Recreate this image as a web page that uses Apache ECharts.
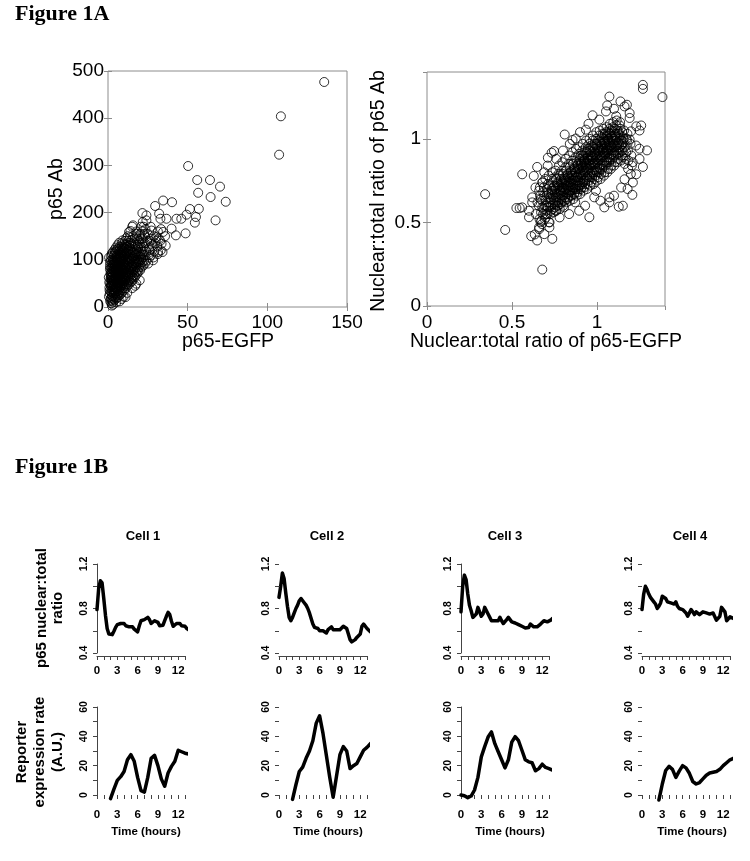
<!DOCTYPE html>
<html><head><meta charset="utf-8">
<script src="https://cdn.jsdelivr.net/npm/echarts@6/dist/echarts.min.js"></script>
<style>html,body{margin:0;padding:0;background:#fff}#c{width:750px;height:861px}</style>
</head><body><div id="c"></div>
<script>
// ---------------- DATA ----------------
// Figure 1B time grids (hours)
const tTop = [0,0.25,0.5,0.75,1,1.25,1.5,1.75,2,2.25,2.5,2.75,3,3.25,3.5,3.75,4,4.25,4.5,4.75,5,5.25,5.5,5.75,6,6.25,6.5,6.75,7,7.25,7.5,7.75,8,8.25,8.5,8.75,9,9.25,9.5,9.75,10,10.25,10.5,10.75,11,11.25,11.5,11.75,12,12.25,12.5,12.75,13,13.25,13.5];
const tBot = [0,0.5,1,1.5,2,2.5,3,3.5,4,4.5,5,5.5,6,6.5,7,7.5,8,8.5,9,9.5,10,10.5,11,11.5,12,12.5,13,13.5];

// p65 nuclear:total ratio
const cell1Ratio = [0.79,0.98,1.05,1.03,0.89,0.74,0.62,0.57,0.556,0.565,0.595,0.63,0.655,0.67,0.665,0.675,0.665,0.645,0.65,0.635,0.645,0.635,0.615,0.60,0.59,0.645,0.69,0.705,0.70,0.71,0.72,0.70,0.665,0.67,0.69,0.70,0.675,0.645,0.63,0.65,0.69,0.73,0.765,0.745,0.685,0.64,0.635,0.665,0.68,0.665,0.645,0.65,0.64,0.62,0.61];
const cell2Ratio = [0.9,1.0,1.12,1.07,0.94,0.82,0.72,0.69,0.72,0.76,0.8,0.83,0.87,0.89,0.87,0.85,0.83,0.8,0.76,0.71,0.66,0.63,0.63,0.62,0.6,0.59,0.6,0.6,0.58,0.61,0.625,0.635,0.61,0.6,0.61,0.6,0.61,0.62,0.64,0.65,0.62,0.57,0.52,0.5,0.51,0.52,0.54,0.55,0.57,0.64,0.66,0.64,0.62,0.61,0.59];
const cell3Ratio = [0.77,1.0,1.1,1.06,0.93,0.83,0.78,0.72,0.72,0.75,0.81,0.77,0.73,0.75,0.81,0.80,0.75,0.72,0.69,0.68,0.69,0.7,0.69,0.72,0.69,0.665,0.665,0.7,0.72,0.7,0.68,0.665,0.67,0.66,0.655,0.645,0.64,0.63,0.625,0.61,0.63,0.66,0.665,0.635,0.62,0.635,0.645,0.66,0.67,0.69,0.685,0.68,0.685,0.695,0.71];
const cell4Ratio = [0.79,0.93,1.0,0.97,0.93,0.9,0.88,0.86,0.84,0.8,0.82,0.85,0.91,0.91,0.89,0.86,0.85,0.85,0.84,0.84,0.86,0.82,0.8,0.785,0.79,0.8,0.76,0.73,0.73,0.79,0.77,0.745,0.77,0.785,0.745,0.76,0.77,0.755,0.76,0.76,0.75,0.74,0.76,0.77,0.695,0.71,0.73,0.81,0.82,0.77,0.69,0.7,0.725,0.71,0.71];

// Reporter expression rate (A.U.)
const cell1Expr = [null,null,null,null,-2.5,4,10,12.5,16,24,27.5,23,12,3,2,12,25,27,20,11,6,15,19.5,23,30.5,29.5,28.5,28];
const cell2Expr = [null,null,null,null,-3,7,16,19,25,30,37,49,54,42,27,12,-1.5,13,27.5,33,30,18,20,21.5,26,30.5,32.5,35];
const cell3Expr = [0,-0.5,-1.8,-0.7,3.4,12,26,33,39.5,43,35,29.5,24,18.5,24,36,39.8,37,30.5,24,22.6,22,16.5,18,21,18.8,18,17];
const cell4Expr = [null,null,null,null,null,-3.4,7.5,16.7,19.5,17.5,12,16.3,20,18.5,14.8,9.2,7.5,8.5,11,13.5,15,15.5,16,17.5,20,22,24,25];

const cellTitles = ['Cell 1','Cell 2','Cell 3','Cell 4'];
const ratioSeries = [cell1Ratio, cell2Ratio, cell3Ratio, cell4Ratio];
const exprSeries = [cell1Expr, cell2Expr, cell3Expr, cell4Expr];

// Figure 1A left: [p65-EGFP, p65 Ab]
const egfpVsAb = [
[135.7,476.7],[108.5,404],[107.4,322.7],[50.3,298.7],[56,269],[64,269],[70.3,255],[56.6,242],[64.4,233],[73.9,223],[57,208],[51.4,207.6],[49.3,195.6],[55.2,190.7],[54.5,178.7],[67.5,183.6],[43,187],[46,187],[34.6,225.6],[40.2,222],[29.6,214],[21.6,199],[32.1,197.7],[32.9,187],[36.7,187],[39.9,166],[42.6,151.8],[48.7,156],[34.6,159],[30.4,148],[33.6,134],[31.4,116.5],[34.2,116.5],[27.3,162],[24.1,183.6],[24.1,194],[15.7,173],[13.2,159],[17.8,155],[27.3,134],[28.3,99],[25.2,92],[26.2,120],[19.9,56.5],[17.8,49.4],[11,21],
[0.6,22],[0.9,41],[0.5,63],[1.2,80],[1.4,12],[1.1,28],[0.8,52],[1.5,70],[1.3,95],[0.7,105],[1.0,35],[1.6,58],
[2.1,8],[1.9,19],[2.3,31],[2.0,43],[2.4,56],[1.8,67],[2.2,81],[2.6,94],[2.0,108],[2.5,24],[2.2,48],[1.9,74],
[3.1,11],[2.9,23],[3.3,36],[3.0,49],[3.4,61],[2.8,73],[3.2,86],[3.5,99],[3.0,116],[3.6,29],[2.7,64],[3.3,90],
[4.2,15],[3.9,27],[4.4,41],[4.0,53],[4.3,66],[3.8,78],[4.1,93],[4.5,104],[4.0,121],[4.6,34],[3.9,59],[4.4,85],
[5.1,18],[4.9,31],[5.3,44],[5.0,57],[5.4,69],[4.8,81],[5.2,96],[5.5,110],[5.0,126],[5.6,38],[4.9,63],[5.3,88],
[6.2,21],[5.9,34],[6.4,47],[6.0,59],[6.3,71],[5.8,85],[6.1,98],[6.5,113],[6.0,131],[6.6,52],[5.9,77],
[7.1,25],[6.9,38],[7.4,51],[7.0,63],[7.3,76],[6.8,89],[7.2,101],[7.5,116],[7.0,136],[7.6,44],[6.9,69],
[8.2,28],[7.9,42],[8.4,55],[8.0,68],[8.3,81],[7.8,93],[8.1,107],[8.5,121],[8.6,61],[7.9,86],
[9.1,32],[8.9,46],[9.3,58],[9.0,72],[9.4,85],[8.8,98],[9.2,111],[9.5,126],[9.0,141],[9.6,66],
[10.2,36],[9.9,50],[10.4,63],[10.0,76],[10.3,90],[9.8,103],[10.1,118],[10.5,131],[10.6,71],
[11.1,40],[10.9,55],[11.4,68],[11.0,81],[11.3,95],[10.8,108],[11.2,123],[11.5,146],
[12.2,45],[11.9,58],[12.4,73],[12.0,86],[12.3,100],[11.8,113],[12.1,128],[12.5,150],
[13.1,48],[12.9,62],[13.3,76],[13.0,90],[13.4,104],[12.8,118],[13.2,136],
[14.2,52],[13.9,66],[14.4,80],[14.0,95],[14.3,110],[13.8,125],[14.1,161],
[15.1,55],[14.9,70],[15.3,85],[15.0,100],[15.4,115],[14.8,141],[15.2,170],
[16.2,60],[15.9,75],[16.4,90],[16.0,105],[16.3,120],[15.8,150],
[17.1,65],[16.9,80],[17.4,95],[17.0,110],[17.3,131],
[18.2,70],[17.9,85],[18.4,100],[18.0,118],[18.3,145],[17.8,160],
[19.1,75],[18.9,92],[19.3,108],[19.0,125],
[20.2,78],[19.9,96],[20.4,112],[20.0,135],[20.3,155],
[21.1,85],[20.9,100],[21.3,120],
[22.2,88],[21.9,105],[22.4,128],[22.0,145],[22.3,170],[21.8,180],
[23.1,92],[22.9,110],[23.3,135],[23.0,150],
[24.2,98],[23.9,118],[26.1,105],[25.8,125],[26.3,140],[27.2,110],[26.9,145],[29.1,118],[28.8,150],
[31.2,112],[30.9,128],[31.3,160],[33.1,120],[32.8,140],[33.3,165],[36.2,130],[35.8,150],
[3.2,5],[5.2,10],[7.3,12],[9.8,22],[12.1,30],[15.2,40],[17.1,45],[2.4,3],[8.5,17],
[1.7,45],[2.8,52],[3.7,47],[4.7,72],[5.7,51],[6.7,82],[7.7,60],[8.7,78],[9.7,92],[2.3,63],[3.4,78],[4.5,98],[5.6,102],[6.6,64],[7.6,105],[8.6,96],[9.5,57],[1.3,88],[2.9,101],[4.1,112],[5.1,118],[6.3,123],[7.4,128],[8.8,135],
[24.5,140],[25.5,110],[27.8,130],[28.5,105],[29.5,135],[23.5,165],[25,155],[26.8,170],[30,140],[31.8,145],[19.5,140],[18.6,132],[21.5,160],[20.7,170],[16.8,145],[14.6,135],[13.7,148],[12.6,140],[11.6,133],
[1.5,16],[1.6,33],[1.4,50],[1.7,62],[1.5,84],[1.6,99],
[2.5,14],[2.6,37],[2.4,45],[2.7,58],[2.5,71],[2.6,86],[2.4,113],
[3.5,17],[3.6,32],[3.4,42],[3.7,55],[3.5,68],[3.6,83],[3.4,95],[3.7,108],
[4.5,21],[4.6,37],[4.4,48],[4.7,61],[4.5,76],[4.6,89],[4.4,116],
[5.5,24],[5.6,41],[5.4,53],[5.7,65],[5.5,79],[5.6,92],[5.4,106],[5.7,122],
[6.5,28],[6.6,42],[6.4,56],[6.7,67],[6.5,80],[6.6,94],[6.4,108],[6.7,118],
[7.5,32],[7.6,47],[7.4,58],[7.7,71],[7.5,84],[7.6,97],[7.4,112],[7.7,124],
[8.5,36],[8.6,50],[8.4,65],[8.7,74],[8.5,89],[8.6,102],[8.4,114],[8.7,128],
[9.5,40],[9.6,52],[9.4,68],[9.7,79],[9.5,95],[9.6,106],[9.4,119],[9.7,133],
[10.5,44],[10.6,57],[10.4,70],[10.7,84],[10.5,97],[10.6,111],[10.4,125],[10.7,140],
[11.5,48],[11.6,62],[11.4,75],[11.7,88],[11.5,102],[11.6,116],[11.4,128],
[12.5,52],[12.6,66],[12.4,80],[12.7,93],[12.5,107],[12.6,121],
[13.5,56],[13.6,70],[13.4,84],[13.7,98],[13.5,113],[13.6,130],
[14.5,60],[14.6,74],[14.4,88],[14.7,103],[14.5,120],
[15.5,64],[15.6,78],[15.4,93],[15.7,108],[15.5,128],
[16.5,68],[16.6,84],[16.4,98],[16.7,114],[16.5,135],
[17.5,74],[17.6,90],[17.4,104],[17.7,122],
[18.5,78],[18.6,95],[18.4,112],[18.7,128],
[19.5,84],[19.6,100],[19.4,116],[19.7,150],
[20.5,90],[20.6,106],[20.4,125],[20.7,145],
[21.5,95],[21.6,112],[21.4,135],
[22.5,98],[22.6,118],[22.7,155]
];

// Figure 1A right: [nuclear:total ratio p65-EGFP, nuclear:total ratio p65 Ab]
const ratioEgfpVsAb = [
[0.342,0.669],[0.46,0.455],[0.56,0.788],[0.526,0.586],[0.545,0.586],[0.678,0.218],[0.737,0.402],[0.648,0.392],[0.613,0.418],[0.634,0.428],[0.6,0.531],[0.955,0.531],[0.81,1.026],[1.073,1.253],[1.27,1.323],[1.27,1.299],[1.385,1.25],[1.138,1.224],[1.176,1.204],[0.974,1.141],[1.26,1.08],[1.25,0.941],[1.294,0.931],[1.27,0.832],[1.208,0.665],[1.152,0.6],[1.128,0.594],[1.231,0.788],[1.043,0.59],[1.073,0.62],[0.836,0.55],[0.895,0.57],[0.717,0.501],[0.668,0.501],[0.747,0.927],[0.711,0.887],[0.733,0.917],[0.648,0.832],[0.628,0.778],[0.638,0.709],[0.678,0.739],[0.875,1.002],[0.856,0.993],[0.935,1.055],[1.014,1.115],[1.053,1.164],[1.113,1.135],[1.192,1.154],[1.231,1.075],[1.25,1.05],[1.2,1.045],[1.192,0.996],[1.25,0.88],[1.211,0.739],[1.162,0.758],[1.142,0.709],[1.073,0.65],[0.984,0.65],[0.994,0.689],[0.806,0.59],[0.757,0.57],[0.698,0.55],[0.678,0.59],[0.619,0.65],[0.619,0.62],
[0.56,0.59],[0.872,0.62],[1.162,1.194],[1.192,1.125],[1.1,1.18],[1.06,1.2],[0.95,1.09],[0.9,1.04],[1.21,0.86],[1.23,0.96],[1.18,0.7],[1.1,0.66],[1.02,0.63],[0.93,0.6],[0.78,0.53],[0.66,0.46],[0.69,0.43],[0.72,0.47],[0.6,0.57],[0.64,0.55],[0.65,0.62],[0.66,0.69],[0.69,0.8],[0.71,0.84],[0.76,0.88],[0.8,0.93],[0.84,0.97],
[0.662,0.52],[0.657,0.6],[0.665,0.66],[0.659,0.47],[0.664,0.71],
[0.683,0.55],[0.678,0.63],[0.676,0.49],[0.684,0.68],[0.68,0.74],[0.686,0.58],
[0.703,0.57],[0.697,0.64],[0.705,0.7],[0.699,0.53],[0.702,0.6],[0.696,0.76],[0.704,0.66],
[0.722,0.59],[0.717,0.67],[0.725,0.55],[0.719,0.72],[0.723,0.62],[0.716,0.78],[0.721,0.5],[0.726,0.65],
[0.742,0.61],[0.737,0.69],[0.745,0.56],[0.739,0.74],[0.743,0.65],[0.736,0.8],[0.741,0.58],[0.746,0.71],
[0.762,0.63],[0.757,0.7],[0.765,0.6],[0.759,0.76],[0.763,0.67],[0.756,0.81],[0.761,0.57],[0.766,0.73],[0.758,0.65],
[0.782,0.64],[0.777,0.72],[0.785,0.61],[0.779,0.78],[0.783,0.69],[0.776,0.84],[0.781,0.58],[0.786,0.75],[0.778,0.67],[0.784,0.7],
[0.802,0.66],[0.797,0.74],[0.805,0.63],[0.799,0.79],[0.803,0.71],[0.796,0.86],[0.801,0.6],[0.806,0.76],[0.798,0.69],[0.804,0.73],
[0.822,0.67],[0.817,0.75],[0.825,0.64],[0.819,0.81],[0.823,0.72],[0.816,0.88],[0.821,0.62],[0.826,0.78],[0.818,0.7],[0.824,0.74],
[0.842,0.69],[0.837,0.77],[0.845,0.66],[0.839,0.83],[0.843,0.74],[0.836,0.9],[0.841,0.63],[0.846,0.8],[0.838,0.72],[0.844,0.76],[0.84,0.68],
[0.862,0.7],[0.857,0.79],[0.865,0.67],[0.859,0.85],[0.863,0.76],[0.856,0.92],[0.861,0.64],[0.866,0.82],[0.858,0.73],[0.864,0.78],[0.86,0.71],
[0.882,0.72],[0.877,0.8],[0.885,0.68],[0.879,0.86],[0.883,0.78],[0.876,0.94],[0.881,0.66],[0.886,0.84],[0.878,0.75],[0.884,0.82],[0.88,0.7],
[0.902,0.74],[0.897,0.82],[0.905,0.7],[0.899,0.88],[0.903,0.8],[0.896,0.95],[0.901,0.67],[0.906,0.85],[0.898,0.77],[0.904,0.84],[0.9,0.72],[0.907,0.9],
[0.922,0.75],[0.917,0.84],[0.925,0.71],[0.919,0.9],[0.923,0.82],[0.916,0.97],[0.921,0.69],[0.926,0.87],[0.918,0.79],[0.924,0.86],[0.92,0.74],[0.927,0.92],
[0.942,0.77],[0.937,0.86],[0.945,0.73],[0.939,0.92],[0.943,0.84],[0.936,0.99],[0.941,0.7],[0.946,0.89],[0.938,0.81],[0.944,0.88],[0.94,0.76],[0.947,0.94],
[0.962,0.79],[0.957,0.87],[0.965,0.74],[0.959,0.93],[0.963,0.85],[0.956,1.0],[0.961,0.72],[0.966,0.9],[0.958,0.83],[0.964,0.89],[0.96,0.77],[0.967,0.96],
[0.982,0.8],[0.977,0.89],[0.985,0.76],[0.979,0.95],[0.983,0.87],[0.976,1.02],[0.981,0.73],[0.986,0.92],[0.978,0.85],[0.984,0.91],[0.98,0.79],[0.987,0.97],
[1.002,0.82],[0.997,0.91],[1.005,0.77],[0.999,0.97],[1.003,0.89],[0.996,1.04],[1.001,0.75],[1.006,0.94],[0.998,0.86],[1.004,0.93],[1.0,0.8],[1.007,0.99],
[1.022,0.84],[1.017,0.93],[1.025,0.79],[1.019,0.98],[1.023,0.9],[1.016,1.05],[1.021,0.76],[1.026,0.95],[1.018,0.88],[1.024,0.96],[1.02,0.82],[1.027,1.01],
[1.042,0.86],[1.037,0.94],[1.045,0.8],[1.039,1.0],[1.043,0.92],[1.036,1.06],[1.041,0.78],[1.046,0.97],[1.038,0.9],[1.044,0.98],[1.04,0.84],[1.047,1.03],
[1.062,0.88],[1.057,0.96],[1.065,0.82],[1.059,1.02],[1.063,0.94],[1.056,1.07],[1.061,0.8],[1.066,0.99],[1.058,0.92],[1.064,1.0],[1.06,0.86],[1.067,1.04],
[1.082,0.9],[1.077,0.98],[1.085,0.84],[1.079,1.03],[1.083,0.96],[1.076,1.09],[1.081,0.82],[1.086,1.01],[1.078,0.94],[1.084,1.05],[1.08,0.88],
[1.102,0.92],[1.097,1.0],[1.105,0.86],[1.099,1.04],[1.103,0.97],[1.096,1.1],[1.101,0.84],[1.106,1.02],[1.098,0.95],[1.104,1.06],[1.1,0.9],
[1.122,0.94],[1.117,1.01],[1.125,0.88],[1.119,1.05],[1.123,0.98],[1.116,1.11],[1.121,0.86],[1.126,1.03],[1.118,0.96],[1.124,0.91],
[1.142,0.96],[1.137,1.02],[1.145,0.9],[1.139,1.06],[1.143,0.99],[1.136,1.1],[1.141,0.87],[1.146,0.93],
[1.162,0.95],[1.157,1.0],[1.165,0.9],[1.159,1.05],[1.163,0.85],[1.156,0.98],
[1.182,0.93],[1.177,0.99],[1.185,0.87],[1.179,1.03],[1.183,0.82],
[1.202,0.9],[1.197,0.97],[1.205,0.84],[1.199,0.79],
[0.671,0.56],[0.669,0.64],[0.673,0.51],
[0.691,0.6],[0.689,0.66],[0.693,0.52],[0.688,0.71],
[0.711,0.59],[0.709,0.62],[0.713,0.68],[0.708,0.55],[0.712,0.73],
[0.731,0.6],[0.729,0.64],[0.733,0.7],[0.728,0.57],[0.732,0.67],[0.734,0.76],
[0.751,0.59],[0.749,0.63],[0.753,0.67],[0.748,0.72],[0.752,0.61],[0.754,0.77],[0.75,0.69],
[0.771,0.6],[0.769,0.65],[0.773,0.69],[0.768,0.74],[0.772,0.62],[0.774,0.79],[0.77,0.71],
[0.791,0.62],[0.789,0.66],[0.793,0.71],[0.788,0.76],[0.792,0.64],[0.794,0.81],[0.79,0.73],[0.787,0.68],
[0.811,0.63],[0.809,0.68],[0.813,0.73],[0.808,0.77],[0.812,0.65],[0.814,0.83],[0.81,0.75],[0.807,0.7],
[0.831,0.65],[0.829,0.69],[0.833,0.74],[0.828,0.79],[0.832,0.67],[0.834,0.85],[0.83,0.77],[0.827,0.71],
[0.851,0.66],[0.849,0.71],[0.853,0.75],[0.848,0.81],[0.852,0.69],[0.854,0.87],[0.85,0.78],[0.847,0.73],
[0.871,0.68],[0.869,0.72],[0.873,0.77],[0.868,0.83],[0.872,0.7],[0.874,0.89],[0.87,0.8],[0.867,0.75],
[0.891,0.7],[0.889,0.74],[0.893,0.79],[0.888,0.85],[0.892,0.72],[0.894,0.91],[0.89,0.82],[0.887,0.77],[0.895,0.87],
[0.911,0.71],[0.909,0.76],[0.913,0.81],[0.908,0.86],[0.912,0.73],[0.914,0.93],[0.91,0.83],[0.907,0.78],[0.915,0.89],
[0.931,0.73],[0.929,0.78],[0.933,0.83],[0.928,0.88],[0.932,0.75],[0.934,0.95],[0.93,0.85],[0.927,0.8],[0.935,0.91],
[0.951,0.75],[0.949,0.8],[0.953,0.85],[0.948,0.9],[0.952,0.78],[0.954,0.97],[0.95,0.87],[0.947,0.82],[0.955,0.93],
[0.971,0.77],[0.969,0.81],[0.973,0.86],[0.968,0.92],[0.972,0.8],[0.974,0.99],[0.97,0.88],[0.967,0.84],[0.975,0.95],
[0.991,0.78],[0.989,0.83],[0.993,0.88],[0.988,0.94],[0.992,0.81],[0.994,1.0],[0.99,0.9],[0.987,0.85],[0.995,0.96],
[1.011,0.8],[1.009,0.85],[1.013,0.9],[1.008,0.95],[1.012,0.83],[1.014,1.02],[1.01,0.92],[1.007,0.87],[1.015,0.98],
[1.031,0.82],[1.029,0.87],[1.033,0.92],[1.028,0.97],[1.032,0.85],[1.034,1.03],[1.03,0.94],[1.027,0.89],[1.035,0.99],
[1.051,0.84],[1.049,0.89],[1.053,0.93],[1.048,0.98],[1.052,0.87],[1.054,1.04],[1.05,0.95],[1.047,0.91],[1.055,1.01],
[1.071,0.86],[1.069,0.91],[1.073,0.95],[1.068,1.0],[1.072,0.89],[1.074,1.06],[1.07,0.97],[1.067,0.93],[1.075,1.03],
[1.091,0.88],[1.089,0.93],[1.093,0.97],[1.088,1.02],[1.092,0.91],[1.094,1.07],[1.09,0.99],[1.087,0.95],
[1.111,0.9],[1.109,0.95],[1.113,0.99],[1.108,1.03],[1.112,0.93],[1.114,1.08],[1.11,1.01],
[1.131,0.92],[1.129,0.97],[1.133,1.0],[1.128,1.04],[1.132,0.95],[1.134,1.08],
[1.151,0.93],[1.149,0.97],[1.153,1.01],[1.148,1.04],[1.152,0.89],
[1.171,0.92],[1.169,0.96],[1.173,1.0],[1.168,0.88]
];

// ---------------- CHART ----------------
const SANS = '"Liberation Sans", Arial, Helvetica, sans-serif';
const SERIF = '"Liberation Serif", "Times New Roman", serif';
const grids = [], xAxes = [], yAxes = [], series = [], graphics = [];

function scatterPanel(box, xr, yr, data, xMargin, yMargin, showMax) {
  const gi = grids.length;
  grids.push(Object.assign({show: true, borderColor: '#8c8c8c', borderWidth: 1, backgroundColor: 'transparent'}, box));
  const tick = {show: true, inside: true, length: 4, lineStyle: {color: '#8c8c8c', width: 1}};
  const lab = {color: '#000', fontSize: 19, fontFamily: SANS, showMaxLabel: showMax};
  const xi = xAxes.length;
  xAxes.push({gridIndex: gi, type: 'value', min: xr[0], max: xr[1], interval: xr[2], axisLine: {show: false}, axisTick: tick, splitLine: {show: false}, axisLabel: Object.assign({margin: xMargin}, lab)});
  xAxes.push({gridIndex: gi, type: 'value', position: 'top', min: xr[0], max: xr[1], interval: xr[2], axisLine: {show: false}, axisTick: tick, splitLine: {show: false}, axisLabel: {show: false}});
  const yi = yAxes.length;
  yAxes.push({gridIndex: gi, type: 'value', min: yr[0], max: yr[1], interval: yr[2], axisLine: {show: false}, axisTick: tick, splitLine: {show: false}, axisLabel: Object.assign({margin: yMargin}, lab)});
  yAxes.push({gridIndex: gi, type: 'value', position: 'right', min: yr[0], max: yr[1], interval: yr[2], axisLine: {show: false}, axisTick: tick, splitLine: {show: false}, axisLabel: {show: false}});
  series.push({type: 'scatter', xAxisIndex: xi, yAxisIndex: yi, data: data, symbol: 'circle', symbolSize: 9,
    progressive: 0, silent: true,
    itemStyle: {color: 'rgba(0,0,0,0)', borderColor: '#000', borderWidth: 1}});
}

scatterPanel({left: 108, top: 71, width: 239, height: 236}, [0, 150, 50], [0, 500, 100], egfpVsAb, 6, 4, true);
scatterPanel({left: 427, top: 72, width: 238, height: 234}, [0, 1.4, 0.5], [0, 1.4, 0.5], ratioEgfpVsAb, 7, 6, false);

const panelLeft = [97, 279, 461, 642];
const PW = 88;
function linePanel(k, top, height, yr, yFmt, xOffset, xMargin, times, vals, showYLine, showXLine) {
  const gi = grids.length;
  grids.push({left: panelLeft[k], top: top, width: PW, height: height});
  const axCol = '#444';
  const xi = xAxes.length;
  xAxes.push({gridIndex: gi, type: 'value', min: 0, max: 13, interval: 1, offset: xOffset,
    axisLine: {show: showXLine, lineStyle: {color: axCol, width: 1}},
    axisTick: {show: true, length: 4, lineStyle: {color: axCol, width: 1}},
    splitLine: {show: false},
    axisLabel: {margin: xMargin, fontSize: 11.5, fontWeight: 'bold', fontFamily: SANS, color: '#000',
      formatter: v => (Math.round(v) % 3 === 0 ? String(Math.round(v)) : '')}});
  const yi = yAxes.length;
  yAxes.push({gridIndex: gi, type: 'value', min: yr[0], max: yr[1], interval: yr[2],
    axisLine: {show: showYLine, lineStyle: {color: axCol, width: 1}},
    axisTick: {show: true, length: 4, lineStyle: {color: axCol, width: 1}},
    splitLine: {show: false},
    axisLabel: {rotate: 90, margin: 7, fontSize: 10.5, fontWeight: 'bold', fontFamily: SANS, color: '#000', formatter: yFmt}});
  series.push({type: 'line', xAxisIndex: xi, yAxisIndex: yi, clip: false, showSymbol: false, silent: true,
    connectNulls: false, lineStyle: {color: '#000', width: 3.5, cap: 'round', join: 'round'},
    data: times.map((t, i) => [t, vals[i]])});
}

const ratioFmt = v => ([0.4, 0.8, 1.2].some(t => Math.abs(t - v) < 1e-6) ? v.toFixed(1) : '');
const exprFmt = v => (Math.round(v) % 20 === 0 ? String(Math.round(v)) : '');
for (let k = 0; k < 4; k++) {
  const lineY = (k === 0 || k === 2);
  linePanel(k, 564, 89, [0.4, 1.2, 0.2], ratioFmt, 3, 9, tTop, ratioSeries[k], lineY, true);
  linePanel(k, 707, 88, [0, 60, 10], exprFmt, 6, 8, tBot, exprSeries[k], lineY, false);
}

function txt(x, y, text, font, opts) {
  opts = opts || {};
  graphics.push({type: 'text', x: x, y: y, rotation: opts.rot || 0, silent: true,
    style: {text: text, font: font, fill: '#000', align: opts.align || 'center', verticalAlign: 'middle',
      textAlign: opts.align || 'center', textVerticalAlign: 'middle', lineHeight: opts.lh || undefined}});
}
txt(15, 14, 'Figure 1A', 'bold 22px ' + SERIF, {align: 'left'});
txt(15, 467, 'Figure 1B', 'bold 22px ' + SERIF, {align: 'left'});
txt(57, 189, 'p65 Ab', '19.5px ' + SANS, {rot: Math.PI / 2});
txt(228, 342, 'p65-EGFP', '19.5px ' + SANS);
txt(379, 191, 'Nuclear:total ratio of p65 Ab', '19.5px ' + SANS, {rot: Math.PI / 2});
txt(546, 342, 'Nuclear:total ratio of p65-EGFP', '19.5px ' + SANS);
const titleX = [143, 327, 505, 690];
const timeX = [146, 328, 510, 692];
for (let k = 0; k < 4; k++) {
  txt(titleX[k], 536, cellTitles[k], 'bold 13px ' + SANS);
  txt(timeX[k], 832, 'Time (hours)', 'bold 11.5px ' + SANS);
}
txt(50, 608, 'p65 nuclear:total\nratio', 'bold 15px ' + SANS, {rot: Math.PI / 2, lh: 16});
txt(40, 752, 'Reporter\nexpression rate\n(A.U.)', 'bold 15px ' + SANS, {rot: Math.PI / 2, lh: 18});

const chart = echarts.init(document.getElementById('c'), null, {renderer: 'canvas'});
chart.setOption({
  animation: false,
  backgroundColor: '#fff',
  grid: grids, xAxis: xAxes, yAxis: yAxes, series: series, graphic: {elements: graphics}
});
</script></body></html>
